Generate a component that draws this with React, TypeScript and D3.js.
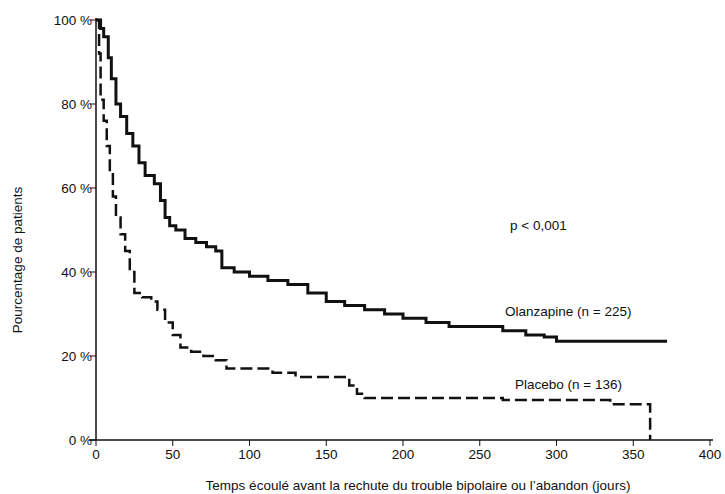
import React, { useEffect, useRef } from 'react';
import * as d3 from 'd3';

const olanzDays = [0, 3, 5, 8, 10, 13, 16, 20, 24, 28, 32, 38, 42, 45, 48, 52, 58, 65, 72, 78, 82, 90, 100, 112, 125, 138, 150, 162, 175, 188, 200, 215, 230, 250, 265, 280, 292, 300, 372];
const olanzPct = [100, 98, 96, 91, 86, 80, 77, 73, 70, 66, 63, 61, 57, 53, 51, 50, 48, 47, 46, 45, 41, 40, 39, 38, 37, 35, 33, 32, 31, 30, 29, 28, 27, 27, 26, 25, 24.5, 23.5, 23.5];
const placDays = [0, 2, 3, 5, 7, 9, 11, 13, 16, 19, 22, 25, 30, 36, 40, 45, 50, 55, 62, 70, 78, 85, 100, 115, 130, 160, 165, 170, 175, 265, 335, 360, 361];
const placPct = [100, 92, 81, 76, 70, 64, 58, 53, 49, 45, 40, 35, 34, 33, 31, 28, 25, 22, 21, 20, 19, 17, 17, 16, 15, 15, 13, 11, 10, 9.5, 8.5, 8.5, 0];
const xTicks = [0, 50, 100, 150, 200, 250, 300, 350, 400];
const yTicks = [0, 20, 40, 60, 80, 100];

export default () => {
  const ref = useRef<SVGSVGElement>(null);
  useEffect(() => {
    const svg = d3.select(ref.current!);
    svg.selectAll('*').remove();
    const x = d3.scaleLinear().domain([0, 400]).range([96, 710]);
    const y = d3.scaleLinear().domain([0, 100]).range([440, 20]);
    const font = 'Liberation Sans, Arial, sans-serif';
    const fs = 13.5;

    svg.append('line').attr('x1', 96).attr('x2', 96).attr('y1', 18).attr('y2', 440).attr('stroke', '#111').attr('stroke-width', 1.5);
    svg.append('line').attr('x1', 89).attr('x2', 713).attr('y1', 440).attr('y2', 440).attr('stroke', '#111').attr('stroke-width', 1.5);
    yTicks.forEach(t => {
      svg.append('line').attr('x1', 90).attr('x2', 96).attr('y1', y(t)).attr('y2', y(t)).attr('stroke', '#111');
      svg.append('text').text(t + ' %').attr('x', 92).attr('y', y(t) + 5).attr('text-anchor', 'end')
        .attr('font-family', font).attr('font-size', fs).attr('fill', '#111');
    });
    xTicks.forEach(t => {
      svg.append('line').attr('x1', x(t)).attr('x2', x(t)).attr('y1', 440).attr('y2', 446).attr('stroke', '#111');
      svg.append('text').text(t).attr('x', x(t)).attr('y', 459).attr('text-anchor', 'middle')
        .attr('font-family', font).attr('font-size', fs).attr('fill', '#111');
    });

    const line = d3.line<[number, number]>().x(d => x(d[0])).y(d => y(d[1])).curve(d3.curveStepAfter);
    svg.append('path').attr('d', line(olanzDays.map((d, i) => [d, olanzPct[i]]))!)
      .attr('fill', 'none').attr('stroke', '#111').attr('stroke-width', 3);
    svg.append('path').attr('d', line(placDays.map((d, i) => [d, placPct[i]]))!)
      .attr('fill', 'none').attr('stroke', '#111').attr('stroke-width', 2.5).attr('stroke-dasharray', '12,5');

    const lbl = (s: string, px: number, py: number) => svg.append('text').text(s).attr('x', px).attr('y', py)
      .attr('font-family', font).attr('font-size', fs).attr('fill', '#111');
    lbl('p < 0,001', 510, 230);
    lbl('Olanzapine (n = 225)', 505, 316);
    lbl('Placebo (n = 136)', 515, 389);
    svg.append('text').text('Temps écoulé avant la rechute du trouble bipolaire ou l’abandon (jours)')
      .attr('x', 418).attr('y', 490).attr('text-anchor', 'middle').attr('font-family', font).attr('font-size', fs).attr('fill', '#111');
    svg.append('text').text('Pourcentage de patients').attr('transform', 'translate(22,260) rotate(-90)')
      .attr('text-anchor', 'middle').attr('font-family', font).attr('font-size', fs).attr('fill', '#111');
  }, []);
  return <svg ref={ref} width={725} height={494} style={{ position: 'absolute', left: 0, top: 0, background: '#fff' }} />;
};
